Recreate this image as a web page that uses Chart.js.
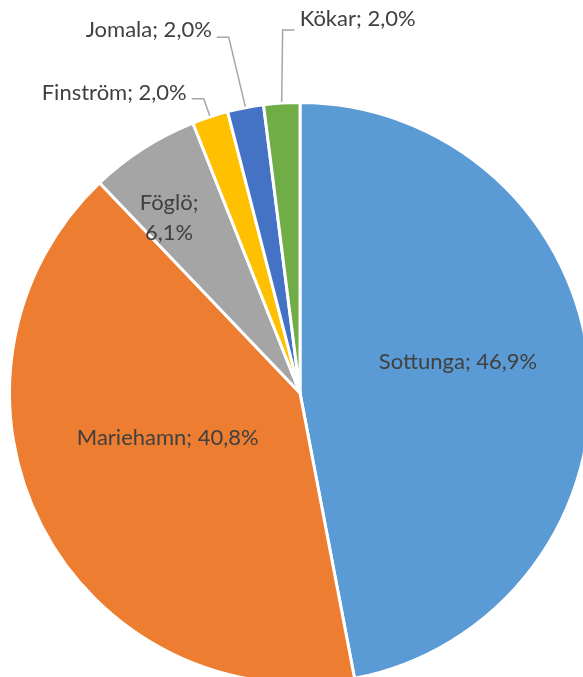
<!DOCTYPE html>
<html>
<head>
<meta charset="utf-8">
<script src="https://cdn.jsdelivr.net/npm/chart.js@4.4.1/dist/chart.umd.min.js"></script>
<style>
  html, body { margin: 0; background: #fff; }
  #wrap { position: relative; width: 583px; height: 677px; overflow: hidden; }
  #pie { position: absolute; left: 0; top: 0; }
</style>
</head>
<body>
<div id="wrap"><canvas id="pie" width="600" height="700"></canvas></div>
<script>
const kommuner = ["Sottunga", "Mariehamn", "Föglö", "Finström", "Jomala", "Kökar"];
const andelar = [46.9, 40.8, 6.1, 2.0, 2.0, 2.0];
const farger = ["#5B9BD5", "#ED7D31", "#A5A5A5", "#FFC000", "#4472C4", "#70AD47"];

const FONT = 22;
const TEXTFARG = "#404040";

// Placering av etiketter: "inne" = polärt relativt sektorns mitt, "ute" = hävarm
const placering = [
  { typ: "inne", vridning: -6, radie: 0.555 },
  { typ: "inne", vridning: 8.8, radie: 0.48 },
  { typ: "inne", vridning: -4, radie: 0.755, tvaRader: true },
  { typ: "ute", dx: -6, dy: -17, sida: -1, textDy: 1 },
  { typ: "ute", dx: -16.5, dy: -69.5, sida: -1, textDy: 0 },
  { typ: "ute", dx: 1, dy: -72, sida: 1, textDy: -4 },
];

const fmt = (v) => v.toFixed(1).replace(".", ",") + "%";

const etikettPlugin = {
  id: "etiketter",
  afterDatasetsDraw(chart) {
    const ctx = chart.ctx;
    const meta = chart.getDatasetMeta(0);
    ctx.save();
    ctx.font = `${FONT}px Lato, "Open Sans", sans-serif`;
    ctx.fillStyle = TEXTFARG;
    ctx.textBaseline = "alphabetic";
    const halvVersal = FONT * 0.36;

    meta.data.forEach((arc, i) => {
      const p = placering[i];
      const mitt = (arc.startAngle + arc.endAngle) / 2;
      const text = kommuner[i] + "; " + fmt(andelar[i]);

      if (p.typ === "inne") {
        const v = mitt + (p.vridning * Math.PI) / 180;
        const x = arc.x + Math.cos(v) * arc.outerRadius * p.radie;
        const y = arc.y + Math.sin(v) * arc.outerRadius * p.radie;
        ctx.textAlign = "center";
        if (p.tvaRader) {
          ctx.fillText(kommuner[i] + ";", x, y - 15 + halvVersal);
          ctx.fillText(fmt(andelar[i]), x, y + 15 + halvVersal);
        } else {
          ctx.fillText(text, x, y + halvVersal);
        }
        return;
      }

      // hävarm från sektorns kant
      const kx = arc.x + Math.cos(mitt) * (arc.outerRadius + 1);
      const ky = arc.y + Math.sin(mitt) * (arc.outerRadius + 1);
      const ax = kx + p.dx;
      const ay = ky + p.dy;
      const sx = ax + p.sida * 12;
      ctx.strokeStyle = "#A6A6A6";
      ctx.lineWidth = 1.5;
      ctx.beginPath();
      ctx.moveTo(kx, ky);
      ctx.lineTo(ax, ay);
      ctx.lineTo(sx, ay);
      ctx.stroke();

      ctx.textAlign = p.sida < 0 ? "right" : "left";
      ctx.fillText(text, sx + p.sida * 5, ay + p.textDy);
    });
    ctx.restore();
  },
};

new Chart(document.getElementById("pie"), {
  type: "pie",
  data: {
    labels: kommuner,
    datasets: [{
      data: andelar,
      backgroundColor: farger,
      borderColor: "#ffffff",
      borderWidth: 3,
      hoverBorderWidth: 3,
    }],
  },
  options: {
    responsive: false,
    animation: false,
    events: [],
    layout: { padding: { left: 8, right: 8, top: 101, bottom: 15 } },
    plugins: { legend: { display: false }, tooltip: { enabled: false } },
  },
  plugins: [etikettPlugin],
});
</script>
</body>
</html>
